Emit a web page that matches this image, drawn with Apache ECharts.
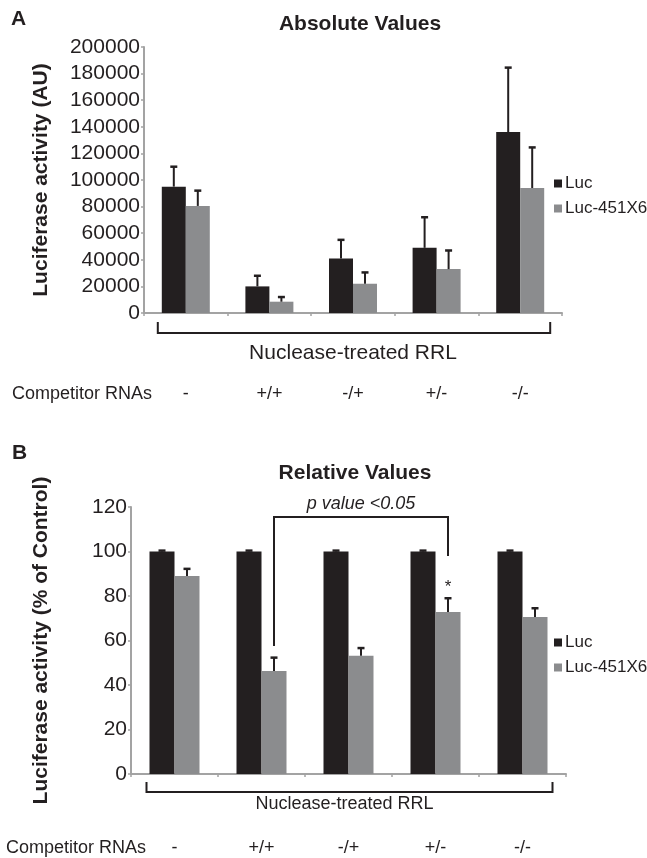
<!DOCTYPE html>
<html>
<head>
<meta charset="utf-8">
<script src="https://cdn.jsdelivr.net/npm/echarts@6/dist/echarts.min.js"></script>
<style>
html, body { margin: 0; padding: 0; background: #fff; }
#main { width: 647px; height: 858px; }
</style>
</head>
<body>
<div id="main"></div>
<script>
// 竞争RNA条件
var categories = ['-', '+/+', '-/+', '+/-', '-/-'];
var seriesNames = ['Luc', 'Luc-451X6'];

// A: 绝对值
var absLuc = [95000, 20000, 41000, 49000, 136000];
var absLucErr = [15000, 8000, 14000, 23000, 48500];
var absMut = [80500, 8500, 22000, 33000, 94000];
var absMutErr = [11500, 3500, 8500, 14000, 30500];

// B: 相对值 (% of Control)
var relLuc = [100, 100, 100, 100, 100];
var relLucErr = [0.4, 0.4, 0.4, 0.4, 0.4];
var relMut = [89, 46.3, 53.2, 72.8, 70.6];
var relMutErr = [3.2, 6, 3.4, 6.2, 3.9];

var absTicks = {min: 0, max: 200000, interval: 20000};
var relTicks = {min: 0, max: 120, interval: 20};

var FONT = 'Liberation Sans, Arial, sans-serif';
var INK = '#231f20';
var GRAY = '#8b8c8e';
var AXIS = '#a3a3a3';
var barW = [24, 25];

function errData(vals, errs) {
	var out = [];
	for (var i = 0; i < vals.length; i++) {
		out.push([i, vals[i], vals[i] + errs[i]]);
	}
	return out;
}

// 误差线 (只画上方)
function errRender(offset) {
	return function(params, api) {
		var base = api.coord([api.value(0), api.value(1)]);
		var top = api.coord([api.value(0), api.value(2)]);
		var cx = base[0] + offset;
		return {
			type: 'group',
			children: [
				{type: 'line', shape: {x1: cx, y1: base[1], x2: cx, y2: top[1]}, style: {stroke: INK, lineWidth: 2}},
				{type: 'line', shape: {x1: cx - 3.5, y1: top[1], x2: cx + 3.5, y2: top[1]}, style: {stroke: INK, lineWidth: 2.5}}
			]
		};
	};
}

function xAxisCfg(idx, margin) {
	return {
		type: 'category',
		gridIndex: idx,
		data: categories,
		axisLine: {lineStyle: {color: AXIS, width: 2}},
		axisTick: {show: true, length: 3, lineStyle: {color: AXIS, width: 1.5}},
		axisLabel: {margin: margin, fontSize: 18, color: INK, fontFamily: FONT}
	};
}

function yAxisCfg(idx, ticks, name, gap) {
	return {
		type: 'value',
		gridIndex: idx,
		min: ticks.min,
		max: ticks.max,
		interval: ticks.interval,
		splitLine: {show: false},
		axisLine: {show: true, lineStyle: {color: AXIS, width: 2}},
		axisTick: {show: true, length: 3, lineStyle: {color: AXIS, width: 1.5}},
		axisLabel: {fontSize: 21, color: INK, fontFamily: FONT, margin: 4,
			formatter: function(v) { return String(v); }},
		name: name,
		nameLocation: 'middle',
		nameRotate: 90,
		nameGap: gap,
		nameTextStyle: {fontSize: 21, fontWeight: 'bold', color: INK, fontFamily: FONT}
	};
}

function legendCfg(top) {
	return {
		data: seriesNames,
		orient: 'vertical',
		left: 554,
		top: top,
		icon: 'rect',
		itemWidth: 8,
		itemHeight: 8,
		itemGap: 8,
		padding: 0,
		textStyle: {fontSize: 17, color: INK, fontFamily: FONT, padding: [0, 0, 0, -2]}
	};
}

var myChart = echarts.init(document.getElementById('main'));

var option = {
	backgroundColor: '#fff',
	animation: false,
	title: [
		{text: 'Absolute Values', left: 355, top: 9, textAlign: 'center',
			textStyle: {fontSize: 21, fontWeight: 'bold', color: INK, fontFamily: FONT}},
		{text: 'Relative Values', left: 350, top: 458, textAlign: 'center',
			textStyle: {fontSize: 21, fontWeight: 'bold', color: INK, fontFamily: FONT}}
	],
	legend: [legendCfg(175), legendCfg(634)],
	grid: [
		{left: 144, top: 47, width: 418, height: 266, outerBoundsMode: 'none', containLabel: false},
		{left: 131, top: 507, width: 435, height: 267, outerBoundsMode: 'none', containLabel: false}
	],
	xAxis: [xAxisCfg(0, 72), xAxisCfg(1, 65)],
	yAxis: [
		yAxisCfg(0, absTicks, 'Luciferase activity (AU)', 92),
		yAxisCfg(1, relTicks, 'Luciferase activity (% of Control)', 79)
	],
	series: [
		{name: 'Luc', type: 'bar', xAxisIndex: 0, yAxisIndex: 0, data: absLuc, barWidth: barW[0], barGap: '0%', itemStyle: {color: INK}},
		{name: 'Luc-451X6', type: 'bar', xAxisIndex: 0, yAxisIndex: 0, data: absMut, barWidth: barW[0], barGap: '0%', itemStyle: {color: GRAY}},
		{name: 'Luc', type: 'bar', xAxisIndex: 1, yAxisIndex: 1, data: relLuc, barWidth: barW[1], barGap: '0%', itemStyle: {color: INK}},
		{name: 'Luc-451X6', type: 'bar', xAxisIndex: 1, yAxisIndex: 1, data: relMut, barWidth: barW[1], barGap: '0%', itemStyle: {color: GRAY}},
		{name: 'errA1', type: 'custom', xAxisIndex: 0, yAxisIndex: 0, renderItem: errRender(-barW[0] / 2), data: errData(absLuc, absLucErr), encode: {x: 0, y: [1, 2]}, z: 5},
		{name: 'errA2', type: 'custom', xAxisIndex: 0, yAxisIndex: 0, renderItem: errRender(barW[0] / 2), data: errData(absMut, absMutErr), encode: {x: 0, y: [1, 2]}, z: 5},
		{name: 'errB1', type: 'custom', xAxisIndex: 1, yAxisIndex: 1, renderItem: errRender(-barW[1] / 2), data: errData(relLuc, relLucErr), encode: {x: 0, y: [1, 2]}, z: 5},
		{name: 'errB2', type: 'custom', xAxisIndex: 1, yAxisIndex: 1, renderItem: errRender(barW[1] / 2), data: errData(relMut, relMutErr), encode: {x: 0, y: [1, 2]}, z: 5}
	]
};
myChart.setOption(option);

// 注释: 面板字母、括号、显著性标记
function px(g, i, v) {
	return myChart.convertToPixel({xAxisIndex: g, yAxisIndex: g}, [i, v]);
}

function bracket(g, w, y1, y2, lpad, rpad) {
	var l = px(g, 0, 0)[0] - w - lpad;
	var r = px(g, categories.length - 1, 0)[0] + w + rpad;
	return {
		type: 'polyline',
		shape: {points: [[l, y1], [l, y2], [r, y2], [r, y1]]},
		style: {stroke: INK, lineWidth: 2, fill: null}
	};
}

var base0 = px(0, 0, 0)[1];
var base1 = px(1, 0, 0)[1];
var mid0 = (px(0, 0, 0)[0] + px(0, 4, 0)[0]) / 2;
var mid1 = (px(1, 0, 0)[0] + px(1, 4, 0)[0]) / 2;
var sigL = px(1, 1, 0)[0] + barW[1] / 2;
var sigR = px(1, 3, 0)[0] + barW[1] / 2;
var sigTop = px(1, 0, 115.5)[1];

function txt(x, y, s, size, extra) {
	var st = {x: x, y: y, text: s, fontSize: size, fill: INK, fontFamily: FONT, align: 'left', verticalAlign: 'middle'};
	for (var k in extra) st[k] = extra[k];
	return {type: 'text', style: st};
}

myChart.setOption({
	graphic: [
		txt(11, 19, 'A', 21, {fontWeight: 'bold'}),
		txt(12, 453, 'B', 21, {fontWeight: 'bold'}),
		txt(12, 394, 'Competitor RNAs', 18, {}),
		txt(6, 848, 'Competitor RNAs', 18, {}),
		txt(mid0, base0 + 40, 'Nuclease-treated RRL', 21, {align: 'center'}),
		txt(mid1 - 4, base1 + 30, 'Nuclease-treated RRL', 18, {align: 'center'}),
		bracket(0, barW[0], base0 + 9, base0 + 20, 4, 6),
		bracket(1, barW[1], base1 + 8, base1 + 18, 3, 5),
		{
			type: 'polyline',
			shape: {points: [[sigL, px(1, 1, 57.5)[1]], [sigL, sigTop], [sigR, sigTop], [sigR, px(1, 3, 98)[1]]]},
			style: {stroke: INK, lineWidth: 2, fill: null}
		},
		txt((sigL + sigR) / 2, px(1, 0, 121.5)[1], 'p value <0.05', 18, {fontStyle: 'italic', align: 'center'}),
		txt(sigR, px(1, 3, 84)[1], '*', 17, {align: 'center'})
	]
});
</script>
</body>
</html>
